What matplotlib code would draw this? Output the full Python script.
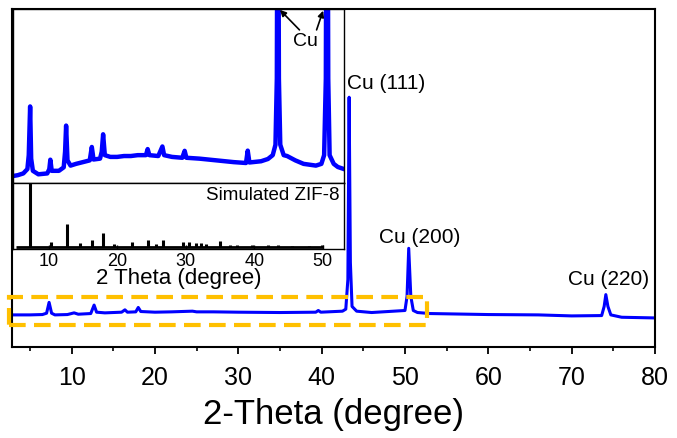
import matplotlib
matplotlib.use("Agg")
import matplotlib.pyplot as plt
from matplotlib.patches import Rectangle

plt.rcParams['font.family'] = ['Liberation Sans', 'DejaVu Sans']

# ---------------- data ----------------
# main pattern: 2-theta vs intensity (a.u.)
main_tt = [2.85, 5.0, 6.5, 7.0, 7.3, 7.6, 8.0, 9.5, 10.3, 10.8, 12.3, 12.7, 13.0, 14.0,
           16.0, 16.4, 16.7, 17.7, 18.0, 18.3, 20.0, 22.0, 24.5, 25.0, 27.0, 30.0, 35.0,
           39.3, 39.6, 39.9, 42.5, 42.9, 43.15, 43.3, 43.45, 43.65, 44.2, 46.0, 50.0, 50.25,
           50.45, 50.7, 51.0, 51.5, 53.0, 60.0, 66.0, 70.0, 73.6, 73.9, 74.1, 74.35, 74.7,
           76.0, 80.0]
main_int = [95, 95, 96, 100, 132, 100, 95, 96, 101, 97, 99, 124, 103, 101,
            103, 110, 103, 104, 117, 105, 103, 104, 106, 104, 104, 103, 102,
            103, 108, 103, 106, 112, 200, 739, 250, 120, 106, 102, 108, 150,
            292, 150, 108, 102, 99, 96, 95, 92, 93, 120, 155, 120, 95,
            88, 86]

# inset, measured pattern (zoom of the low-angle region)
ins_tt = [4.8, 5.5, 6.3, 6.9, 7.1, 7.3, 7.45, 7.7, 8.5, 9.8, 10.1, 10.25, 10.45, 11.5,
          12.2, 12.4, 12.55, 12.75, 13.2, 14.0, 15.0, 16.0, 16.3, 16.55, 17.5, 17.75,
          17.95, 18.2, 19.0, 20.0, 21.0, 22.0, 23.0, 24.2, 24.45, 24.7, 26.0, 26.6, 26.85,
          28.0, 29.5, 29.85, 30.1, 32.0, 35.0, 37.0, 38.8, 39.05, 39.3, 41.0, 42.0, 42.7,
          43.1, 43.3, 43.4, 43.5, 43.6, 43.8, 44.3, 44.8, 46.0, 47.2, 49.0, 49.8, 50.2,
          50.45, 50.55, 50.7, 50.8, 51.0, 51.6, 52.2, 53.1]
ins_int = [4, 4.5, 5.5, 8, 16, 44, 14, 7, 5, 5.5, 8, 13.4, 7, 7,
           9, 18, 33, 13, 10, 11, 12, 13, 20.7, 13.5, 14, 18,
           28, 16, 15, 15, 15.5, 15.5, 16, 16, 19.5, 16, 15.5, 21, 16,
           15, 14.5, 18.5, 14.5, 14, 12.8, 12, 11.5, 18.6, 11.8, 12.5, 13.8, 16,
           22, 60, 200, 200, 60, 22, 16, 15.5, 13, 11, 10, 11, 16,
           60, 200, 200, 60, 16, 11, 9.2, 8]

# simulated ZIF-8 reflections
sim_tt = [7.3, 10.35, 12.7, 14.6, 16.4, 18.0, 19.5, 22.1, 24.5, 25.6, 26.7, 29.6,
          30.5, 31.5, 32.3, 33.0, 35.0, 36.5, 37.5, 39.7, 42.0, 43.5, 45.5, 48.0, 49.9]
sim_int = [150, 11, 38, 9, 13.6, 24, 7.6, 10, 13.6, 7, 13.6, 11,
           10, 9, 9, 8, 11.5, 6, 6, 6, 6, 6, 5, 5, 6]
sim_base = 3.5

peak_labels = ['Cu (111)', 'Cu (200)', 'Cu (220)']
peak_label_pos = [(43.05, 784), (46.9, 328), (69.6, 204)]

main_xticks = [10, 20, 30, 40, 50, 60, 70, 80]
inset_xticks = [10, 20, 30, 40, 50]

# ---------------- figure ----------------
W, H = 677, 439
fig = plt.figure(figsize=(W / 100, H / 100), dpi=100)

def fax(x0, y0, x1, y1):
    return [x0 / W, 1 - y1 / H, (x1 - x0) / W, (y1 - y0) / H]

BLUE = '#0000FF'

ax = fig.add_axes(fax(12, 10, 655, 348))
ax.plot(main_tt, main_int, color=BLUE, lw=2.2, solid_joinstyle='round')
ax.set_xlim(2.85, 80)
ax.set_ylim(0, 1000)
ax.set_yticks([])
ax.set_xticks(main_xticks)
ax.set_xticks([5, 15, 25, 35, 45, 55, 65, 75], minor=True)
ax.tick_params(axis='x', which='major', direction='out', length=5, width=1.3,
               labelsize=18, pad=8)
ax.tick_params(axis='x', which='minor', direction='out', length=3, width=1.2)
for s in ax.spines.values():
    s.set_linewidth(1.5)
ax.set_xlabel('2-Theta (degree)', fontsize=25, labelpad=6)

for lab, (xx, yy) in zip(peak_labels, peak_label_pos):
    ax.text(xx, yy, lab, fontsize=15, ha='left', va='center')

rect = Rectangle((2.45, 66), 52.6 - 2.45, 148 - 66, fill=False, edgecolor='#FFC000',
                 lw=3, linestyle=(0, (4, 2)), clip_on=False, zorder=5)
ax.add_patch(rect)

# ---------------- inset, upper ----------------
ai = fig.add_axes(fax(13, 10, 344, 184))
ai.plot(ins_tt, ins_int, color=BLUE, lw=3.2, solid_joinstyle='round')
ai.set_xlim(4.8, 53.1)
ai.set_ylim(0, 100)
ai.set_xticks([])
ai.set_yticks([])
for s in ai.spines.values():
    s.set_linewidth(1.0)
ai.text(47.4, 82.0, 'Cu', fontsize=14, ha='center', va='center')
ai.annotate('', xy=(43.75, 99.5), xytext=(46.6, 88),
            arrowprops=dict(arrowstyle='-|>', color='black', lw=1.2, mutation_scale=9,
                            shrinkA=0, shrinkB=0))
ai.annotate('', xy=(50.05, 99), xytext=(49.1, 88),
            arrowprops=dict(arrowstyle='-|>', color='black', lw=1.2, mutation_scale=9,
                            shrinkA=0, shrinkB=0))

# ---------------- inset, lower ----------------
al = fig.add_axes(fax(13, 184, 344, 250))
al.hlines(sim_base, 5.3, 50.0, color='black', lw=2)
al.vlines(sim_tt, sim_base, sim_int, color='black', lw=2.2)
al.set_xlim(4.8, 53.1)
al.set_ylim(0, 100)
al.set_yticks([])
al.set_xticks(inset_xticks)
al.tick_params(axis='x', direction='in', length=3, width=1, labelsize=13, pad=2)
for s in al.spines.values():
    s.set_linewidth(1.0)
al.text(0.985, 0.83, 'Simulated ZIF-8', transform=al.transAxes, fontsize=13.5,
        ha='right', va='center')
al.set_xlabel('2 Theta (degree)', fontsize=16, labelpad=-1)

fig.savefig('out.png', dpi=100)
